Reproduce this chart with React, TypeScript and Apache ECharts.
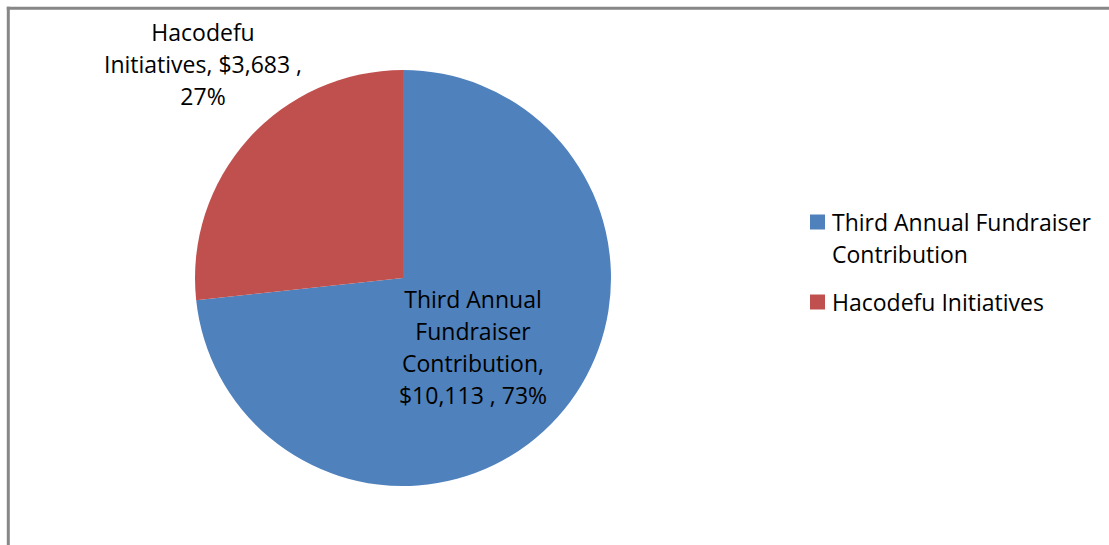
import React, { useEffect, useRef } from "react";
import * as echarts from "echarts";

const categories = ["Third Annual Fundraiser Contribution", "Hacodefu Initiatives"];
const legendLabels = ["\nThird Annual Fundraiser\nContribution", "Hacodefu Initiatives"];
const values = [10113, 3683];
const colors = ["#4F81BD", "#C0504D"];

const FONT = "Open Sans";
const FS = 23;

function money(v: number) {
  return "$" + v.toLocaleString("en-US");
}

export default function App() {
  const ref = useRef<HTMLDivElement>(null);
  useEffect(() => {
    if (!ref.current) return;
    const chart = echarts.init(ref.current, undefined, { renderer: "svg" });
    chart.setOption({
      animation: false,
      backgroundColor: "#ffffff",
      color: colors,
      graphic: [
        {
          type: "line",
          shape: { x1: 8.3, y1: 545, x2: 8.3, y2: 6.8 },
          style: { stroke: "#878787", lineWidth: 3 },
          silent: true,
        },
        {
          type: "line",
          shape: { x1: 6.8, y1: 8.3, x2: 1109, y2: 8.3 },
          style: { stroke: "#878787", lineWidth: 3 },
          silent: true,
        },
      ],
      legend: {
        orient: "vertical",
        left: 810,
        top: 174,
        padding: 0,
        itemWidth: 15,
        itemHeight: 15,
        itemGap: 16,
        icon: "rect",
        selectedMode: false,
        textStyle: { fontFamily: FONT, fontSize: FS, lineHeight: 32, color: "#000", padding: [0, 0, 0, 2] },
        data: categories,
        formatter: (name: string) => legendLabels[categories.indexOf(name)],
      },
      series: [
        {
          type: "pie",
          center: [403, 278],
          radius: 208,
          startAngle: 90,
          clockwise: true,
          avoidLabelOverlap: false,
          data: categories.map((c, i) => ({ name: c, value: values[i] })),
          labelLine: { show: false },
          label: {
            show: true,
            position: "outside",
            fontFamily: FONT,
            fontSize: FS,
            lineHeight: 32,
            color: "#000",
            align: "center",
            formatter: (p: any) =>
              p.dataIndex === 0
                ? `Third Annual\nFundraiser\nContribution,\n${money(p.value)} , ${p.percent}%`
                : `Hacodefu\nInitiatives, ${money(p.value)} ,\n${p.percent}%`,
          },
          percentPrecision: 0,
          labelLayout: (p: any) =>
            p.dataIndex === 0
              ? { x: 473, y: 347, align: "center", verticalAlign: "middle" }
              : { x: 203, y: 64, align: "center", verticalAlign: "middle" },
        },
      ],
    });
    return () => chart.dispose();
  }, []);
  return (
    <div
      ref={ref}
      style={{ position: "fixed", left: 0, top: 0, width: 1109, height: 545, fontVariantLigatures: "none" }}
    />
  );
}
